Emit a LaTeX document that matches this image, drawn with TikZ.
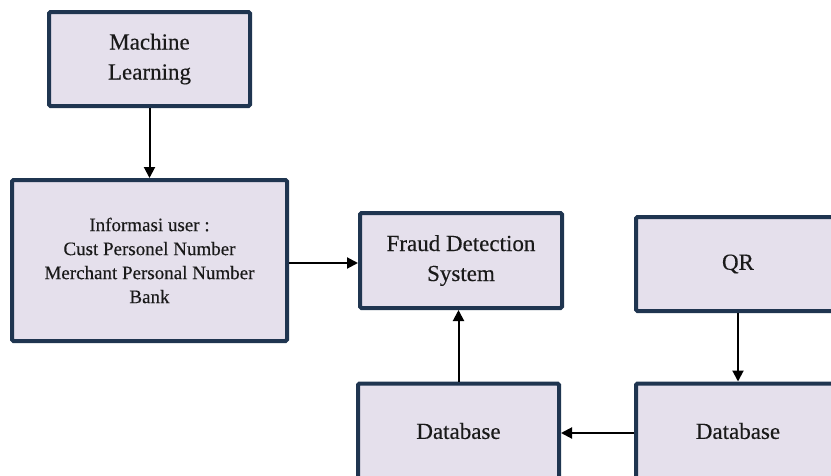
\documentclass[tikz,border=0pt]{standalone}
\usepackage{fontspec}
\setmainfont{Liberation Serif}
\newfontfamily\boxfont{Liberation Serif}[FakeBold=0.35]
\usetikzlibrary{arrows.meta}
\definecolor{boxfill}{HTML}{E5E0EC}
\definecolor{boxline}{HTML}{1F3550}
\definecolor{ink}{HTML}{1A1A1A}
\tikzset{
  blk/.style={draw=boxline, line width=4pt, fill=boxfill, rounded corners=1.5pt,
    align=center, text=ink, inner sep=0pt,
    font=\boxfont\fontsize{23}{30}\selectfont},
  smalltext/.style={font=\boxfont\fontsize{19}{24}\selectfont},
  link/.style={draw=black, line width=2pt,
    -{Triangle[length=11pt,width=11pt]}}
}
\begin{document}
\begin{tikzpicture}[x=1pt,y=-1pt]
  \useasboundingbox (0,0) rectangle (831,475);
  % blocks
  \node[blk, minimum width=201pt, minimum height=94pt] (ml) at (149.5,59) {Machine\\Learning};
  \node[blk, smalltext, minimum width=275pt, minimum height=161pt] (info) at (149.5,260.5)
    {Informasi user :\\Cust Personel Number\\Merchant Personal Number\\Bank};
  \node[blk, minimum width=202pt, minimum height=95pt] (fds) at (461,260.5) {Fraud Detection\\System};
  \node[blk, minimum width=204pt, minimum height=94pt] (qr) at (738,264) {QR};
  \node[blk, minimum width=201pt, minimum height=95pt] (db1) at (458.5,431) {Database};
  \node[blk, minimum width=204pt, minimum height=95pt] (db2) at (738,431) {Database};
  % connectors
  \draw[link] (ml.south) -- (info.north);
  \draw[link] ([yshift=-2.5pt]info.east) -- ([yshift=-2.5pt]info.east -| fds.west);
  \draw[link] (db1.north) -- (db1.north |- fds.south);
  \draw[link] (qr.south) -- (db2.north);
  \draw[link] ([yshift=-2pt]db2.west) -- ([yshift=-2pt]db2.west -| db1.east);
\end{tikzpicture}
\end{document}
